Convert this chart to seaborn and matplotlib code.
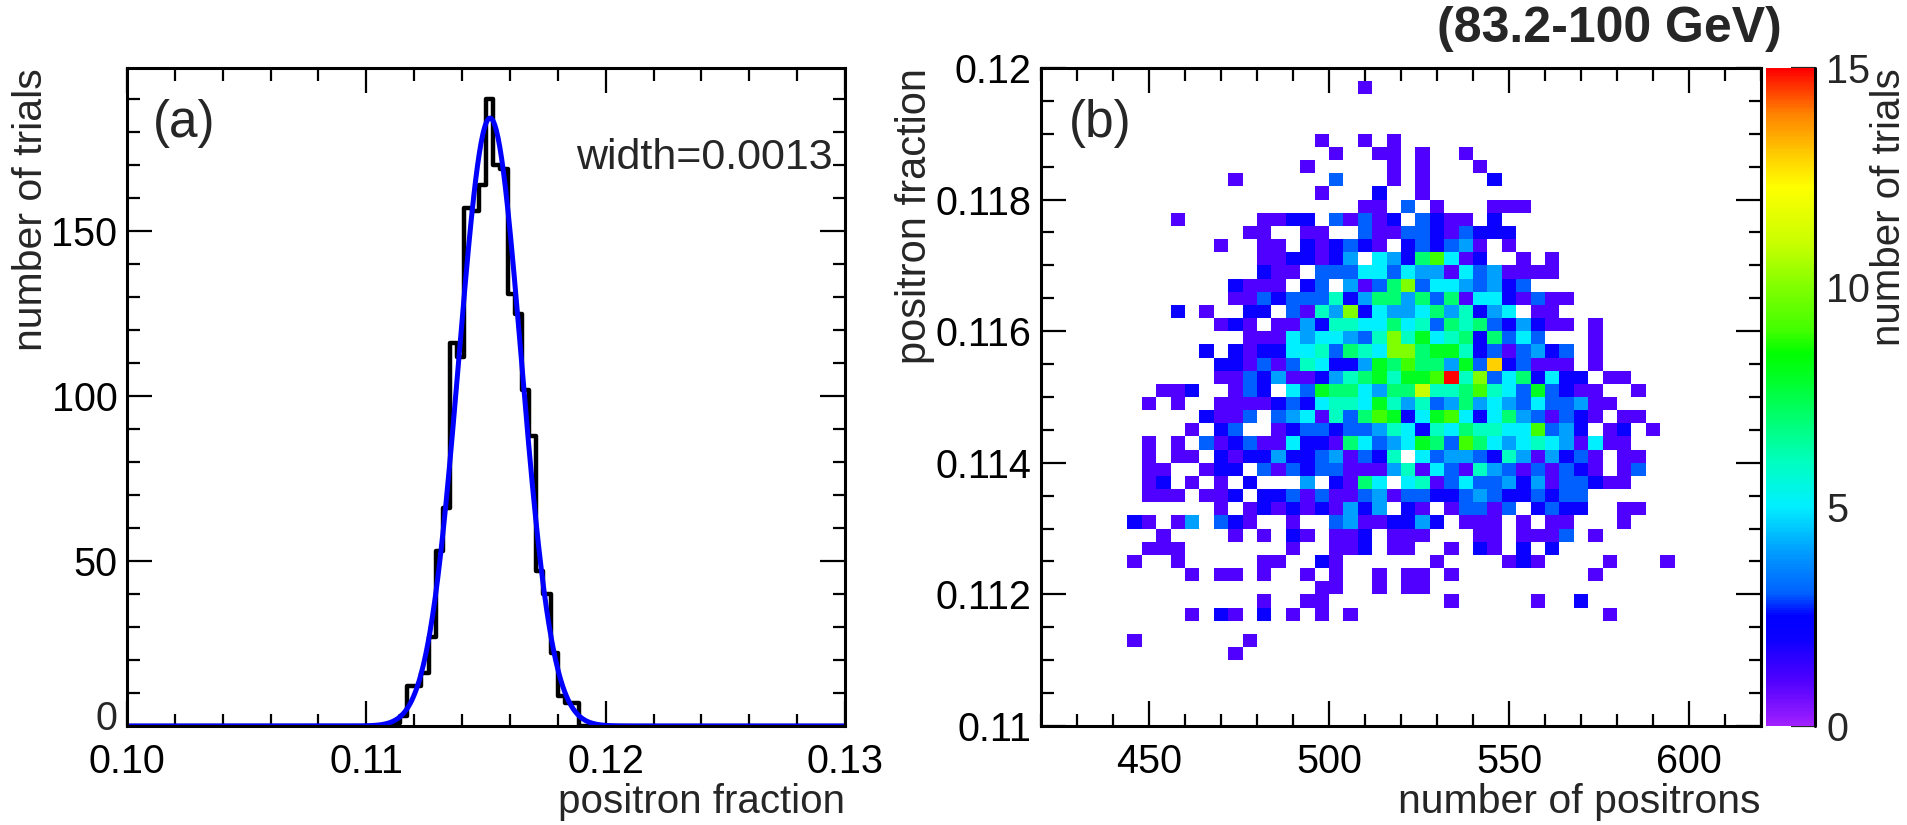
import numpy as np
import matplotlib
matplotlib.use('Agg')
import matplotlib.pyplot as plt
from matplotlib.colors import LinearSegmentedColormap
from matplotlib.ticker import MultipleLocator, FormatStrFormatter, FuncFormatter
import seaborn as sns

sns.set_style('ticks')
plt.rcParams['font.family'] = ['Liberation Sans', 'DejaVu Sans']

# ---- (a) positron fraction of each trial, 100 bins over 0.10-0.13 ----
frac_range = (0.10, 0.13)
frac_nbins = 100
frac_first_bin = 37          # index of first non-empty bin
frac_counts = [1, 3, 12, 12, 16, 27, 53, 66, 116, 112, 157, 156, 164,
               190, 170, 169, 131, 125, 102, 88, 47, 40, 22, 9, 7, 7]
fit_width = 0.0013

# ---- (b) number of positrons vs positron fraction, 50x50 bins ----
npos_range = (420, 620)
pfrac_range = (0.11, 0.12)
# rows from top (0.1198-0.12) to bottom, '.' = empty, hex digit = trials
grid_rows = [
    ".......... .......... .......... .......... ..........",
    ".......... .......... ..1....... .......... ..........",
    ".......... .......... .......... .......... ..........",
    ".......... .......... .......... .......... ..........",
    ".......... .......... .......... .......... ..........",
    ".......... .........1 ..1.1..... .......... ..........",
    ".......... .......... 1..11.1..1 .......... ..........",
    ".......... ........1. ....1.1... 1......... ..........",
    ".......... ...1...... 3...1.1... .2........ ..........",
    ".......... .........1 ...2..1... .......... ..........",
    ".......... .......... ..11.3.1.. .111...... ..........",
    ".........1 .....1122. 31312.3211 .2........ ..........",
    ".......... ....11..11 ..31133213 222....... ..........",
    ".......... ..1..11.21 2321.23234 1.1....... ..........",
    ".......... .....11221 24.5427951 2..1.1.... ..........",
    ".......... .....211.3 3355354415 341111.... ..........",
    ".......... ...2111.23 .4137a3554 3423...... ..........",
    ".......... ...1132333 6247747371 5521311... ..........",
    ".........2 .1..22.316 4a25445746 245.11.... ..........",
    ".......... ..121.1142 6655756376 7324211.1. ..........",
    ".......... ....111545 5436a68567 27353...1. ..........",
    ".......... .2.2122556 3765aa7886 2313423.1. ..........",
    ".......... ..22131365 2248797748 3d23111.1. ..........",
    ".......... ..11324112 46786889f6 a3572522.1 1.........",
    "........11 2..132.538 775477b667 965383211. .1........",
    ".......1.1 ..11112325 6658646347 4543533411 ..........",
    ".......... .2113.3451 6379825895 257431321. 11........",
    ".......... 1.23..1233 2334652657 66559342.1 2.1.......",
    ".......1.1 .312311522 1753458739 7545654151 1.........",
    ".......1.1 1.21224223 41326.5344 326414231. 11........",
    ".......11. .122.31323 3111461531 643131321. 13........",
    ".......12. 1.1.2...4. 2175.56135 3342413321 1.........",
    ".......111 .112.22313 1134133223 43223233.. ..........",
    ".......... ..1.121212 1424.21.13 313.2322.. 11........",
    "......21.1 4.321..1.. 34112242.1 11.1.11... 1.........",
    "........1. ...1.1.21. 112.111... 11.1113.1. ..........",
    ".......111 .......1.. 112.11..1. 21.2.2.... ..........",
    "......1..1 .....11..2 1......1.. ..121....1 ...1......",
    ".......... 1.11.1..1. 1..1.11.1. ........1. ..........",
    ".......... .........1 1..1.11... .......... ..........",
    ".......... .....1..11 ........1. ....1..2.. ..........",
    ".......... 1.21.2.1.1 .1........ .........1 ..........",
    ".......... .......... .......... .......... ..........",
    "......1... ....1..... .......... .......... ..........",
    ".......... ...1...... .......... .......... ..........",
    ".......... .......... .......... .......... ..........",
    ".......... .......... .......... .......... ..........",
    ".......... .......... .......... .......... ..........",
    ".......... .......... .......... .......... ..........",
    ".......... .......... .......... .......... ..........",
]

# ROOT-like rainbow palette for 0..15 trials
palette_stops = [(0.0, '#a020ff'), (1.0, '#5000ff'), (2.0, '#0a00ff'), (2.5, '#0000ff'),
                 (3.0, '#0060ff'), (4.0, '#00a0ff'), (5.0, '#00f0ff'), (6.0, '#00ffc0'),
                 (7.0, '#00ff70'), (8.0, '#00ff20'), (8.5, '#00ff00'), (9.0, '#40ff00'),
                 (10.0, '#80ff00'), (11.0, '#c8ff00'), (12.3, '#ffff00'), (13.0, '#ffd000'),
                 (14.0, '#ff8000'), (15.0, '#ff0000')]
cmap = LinearSegmentedColormap.from_list('rootrainbow', [(v / 15.0, c) for v, c in palette_stops])


def style_axis(ax):
    '''ROOT style frame: ticks inside on all four sides'''
    ax.tick_params(which='both', direction='in', top=True, right=True,
                   width=1.6, colors='black', labelsize=28.5)
    ax.tick_params(which='major', length=18)
    ax.tick_params(which='minor', length=9)
    ax.tick_params(axis='x', which='both', pad=12)
    ax.tick_params(axis='y', which='both', pad=7)
    for s in ax.spines.values():
        s.set_visible(True)
        s.set_linewidth(2.2)
        s.set_color('black')
    ax.set_xlabel('')
    ax.set_ylabel('')


fig = plt.figure(figsize=(19.07, 8.25), dpi=100)
ax1 = fig.add_axes([0.0666, 0.12, 0.3765, 0.7976])
ax2 = fig.add_axes([0.5459, 0.12, 0.3776, 0.7976])
cax = fig.add_axes([0.9262, 0.12, 0.0257, 0.7976])

# ---------------- panel (a) ----------------
edges = np.linspace(frac_range[0], frac_range[1], frac_nbins + 1)
centers = (edges[:-1] + edges[1:]) / 2
counts = np.zeros(frac_nbins)
counts[frac_first_bin:frac_first_bin + len(frac_counts)] = frac_counts

sns.histplot(x=centers, weights=counts, bins=list(edges), element='step', fill=False,
             color='black', linewidth=3.2, ax=ax1)

# gaussian with the quoted width, normalised to the histogram
mean = np.average(centers, weights=counts)
amp = counts.sum() * (edges[1] - edges[0]) / (np.sqrt(2 * np.pi) * fit_width)
xs = np.linspace(frac_range[0], frac_range[1], 800)
ys = amp * np.exp(-0.5 * ((xs - mean) / fit_width) ** 2)
sns.lineplot(x=xs, y=ys, color='#0000ff', linewidth=3.6, ax=ax1)

ax1.set_xlim(*frac_range)
ax1.set_ylim(0, 199.5)
ax1.xaxis.set_major_locator(MultipleLocator(0.01))
ax1.xaxis.set_minor_locator(MultipleLocator(0.002))
ax1.xaxis.set_major_formatter(FormatStrFormatter('%.2f'))
ax1.yaxis.set_major_locator(MultipleLocator(50))
ax1.yaxis.set_minor_locator(MultipleLocator(10))
# the "0" label is drawn separately, lifted a little so it clears "0.10"
ax1.yaxis.set_major_formatter(FuncFormatter(lambda v, p: '' if abs(v) < 1e-9 else '%d' % v))
style_axis(ax1)
ax1.annotate('0', xy=(0, 0), xycoords=('axes fraction', 'data'), xytext=(-7, 5),
             textcoords='offset points', ha='right', va='center', fontsize=28.5)
ax1.text(0.036, 0.915, '(a)', transform=ax1.transAxes, fontsize=37, ha='left', va='center')
ax1.text(0.983, 0.863, 'width=0.0013', transform=ax1.transAxes, fontsize=31, ha='right', va='center')

# ---------------- panel (b) ----------------
grid = np.array([[0 if ch == '.' else int(ch, 16) for ch in row.replace(' ', '')]
                 for row in grid_rows])[::-1]
xe = np.linspace(npos_range[0], npos_range[1], grid.shape[1] + 1)
ye = np.linspace(pfrac_range[0], pfrac_range[1], grid.shape[0] + 1)
jj, ii = np.nonzero(grid)
xc = (xe[ii] + xe[ii + 1]) / 2
yc = (ye[jj] + ye[jj + 1]) / 2

sns.histplot(x=xc, y=yc, weights=grid[jj, ii], bins=[list(xe), list(ye)], cmap=cmap,
             vmin=0, vmax=15, cbar=True, cbar_ax=cax, ax=ax2)

ax2.set_xlim(*npos_range)
ax2.set_ylim(*pfrac_range)
ax2.xaxis.set_major_locator(MultipleLocator(50))
ax2.xaxis.set_minor_locator(MultipleLocator(10))
ax2.yaxis.set_major_locator(MultipleLocator(0.002))
ax2.yaxis.set_minor_locator(MultipleLocator(0.0005))
ax2.yaxis.set_major_formatter(FuncFormatter(lambda v, p: '%g' % round(v, 4)))
style_axis(ax2)
ax2.text(0.039, 0.915, '(b)', transform=ax2.transAxes, fontsize=37, ha='left', va='center')

# colour bar
cbar = ax2.collections[0].colorbar
cbar.outline.set_visible(False)
cbar.set_ticks([0, 5, 10, 15])
cax.tick_params(direction='in', length=17, width=1.6, labelsize=28.5, pad=8)
cax.minorticks_off()
cax.axvline(1, color='black', lw=2.2, clip_on=False)

# axis titles, ROOT style (at the far end of the axes)
fig.text(0.4431, 0.014, 'positron fraction', fontsize=29, ha='right', va='baseline')
fig.text(0.9234, 0.014, 'number of positrons', fontsize=29.5, ha='right', va='baseline')
fig.text(0.0163, 0.9176, 'number of trials', fontsize=29.5, rotation=90, ha='center', va='top')
fig.text(0.4798, 0.9176, 'positron fraction', fontsize=30, rotation=90, ha='center', va='top')
fig.text(0.9905, 0.9176, 'number of trials', fontsize=29, rotation=90, ha='center', va='top')
fig.text(0.9345, 0.949, '(83.2-100 GeV)', fontsize=36, fontweight='bold', ha='right', va='baseline')

fig.savefig('out.png', dpi=100)
